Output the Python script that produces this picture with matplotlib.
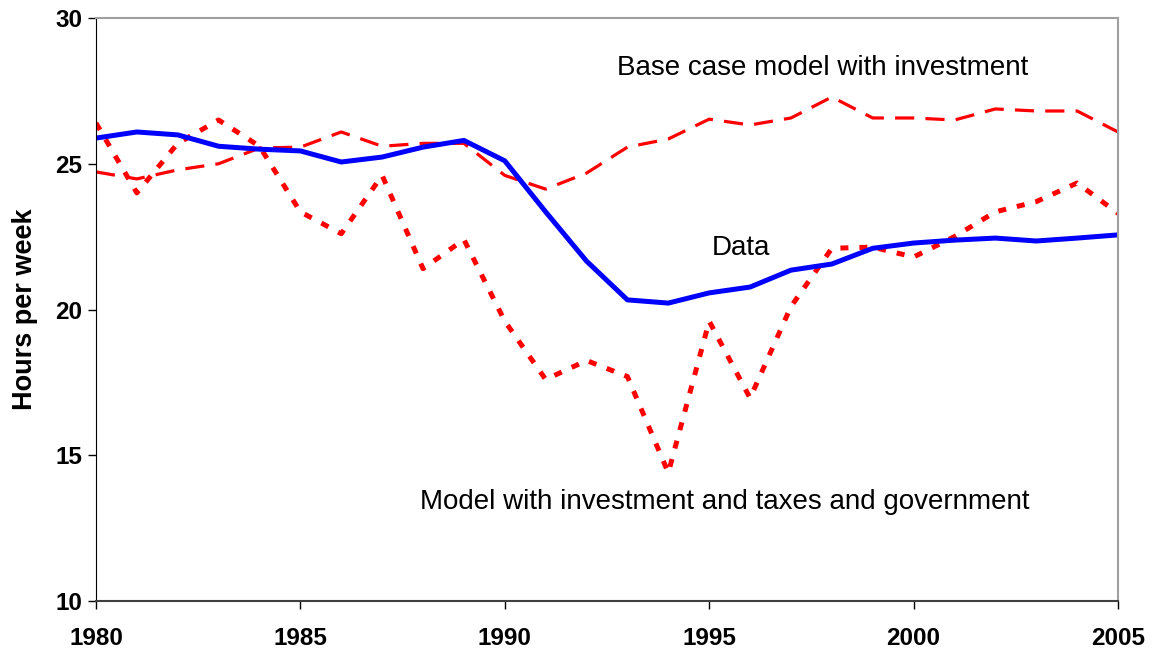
import matplotlib
matplotlib.use('Agg')
import matplotlib.pyplot as plt

plt.rcParams['font.family'] = ['Liberation Sans', 'DejaVu Sans']

years = list(range(1980, 2006))

data_hours = [25.88, 26.09, 25.99, 25.6, 25.5, 25.44, 25.06, 25.23, 25.57, 25.8,
              25.1, 23.35, 21.66, 20.33, 20.22, 20.57, 20.77, 21.35, 21.56, 22.1,
              22.28, 22.38, 22.45, 22.35, 22.45, 22.56]

base_case = [24.72, 24.48, 24.79, 25.0, 25.54, 25.57, 26.09, 25.6, 25.7, 25.7,
             24.6, 24.13, 24.68, 25.57, 25.85, 26.53, 26.33, 26.57, 27.29, 26.57,
             26.57, 26.5, 26.88, 26.81, 26.81, 26.09]

taxes_gov = [26.4, 24.0, 25.7, 26.5, 25.6, 23.35, 22.6, 24.6, 21.4, 22.4,
             19.6, 17.6, 18.25, 17.7, 14.4, 19.6, 16.96, 20.1, 22.1, 22.14,
             21.8, 22.5, 23.35, 23.7, 24.34, 23.3]

fig = plt.figure(figsize=(11.52, 6.52), dpi=100)
ax = fig.add_axes([0.0833, 0.0782, 0.8872, 0.8942])

ax.plot(years, base_case, color='#ff0000', lw=2.3, ls=(0, (6, 3.5)))
ax.plot(years, taxes_gov, color='#ff0000', lw=3.6, ls=(0, (1.6, 2.2)))
ax.plot(years, data_hours, color='#0000ff', lw=3.6)

ax.set_xlim(1980, 2005)
ax.set_ylim(10, 30)
ax.set_xticks([1980, 1985, 1990, 1995, 2000, 2005])
ax.set_yticks([10, 15, 20, 25, 30])

for lab in ax.get_xticklabels() + ax.get_yticklabels():
    lab.set_fontweight('bold')
ax.tick_params(axis='both', labelsize=17.5, direction='out', length=6, width=1)
ax.tick_params(axis='x', pad=13)
ax.tick_params(axis='y', pad=4)

ax.spines['left'].set_color('black')
ax.spines['bottom'].set_color('#404040')
ax.spines['bottom'].set_linewidth(1.5)
ax.spines['top'].set_color('#a0a0a0')
ax.spines['right'].set_color('#a0a0a0')
ax.spines['top'].set_linewidth(1.5)
ax.spines['right'].set_linewidth(1.5)

ax.set_ylabel('Hours per week', fontsize=19.5, fontweight='bold', labelpad=12)

ax.text(1992.74, 28.28, 'Base case model with investment', fontsize=20, va='center', ha='left')
ax.text(1995.07, 22.11, 'Data', fontsize=20, va='center', ha='left')
ax.text(1987.93, 13.4, 'Model with investment and taxes and government', fontsize=20,
        va='center', ha='left')

fig.savefig('out.png', dpi=100)
